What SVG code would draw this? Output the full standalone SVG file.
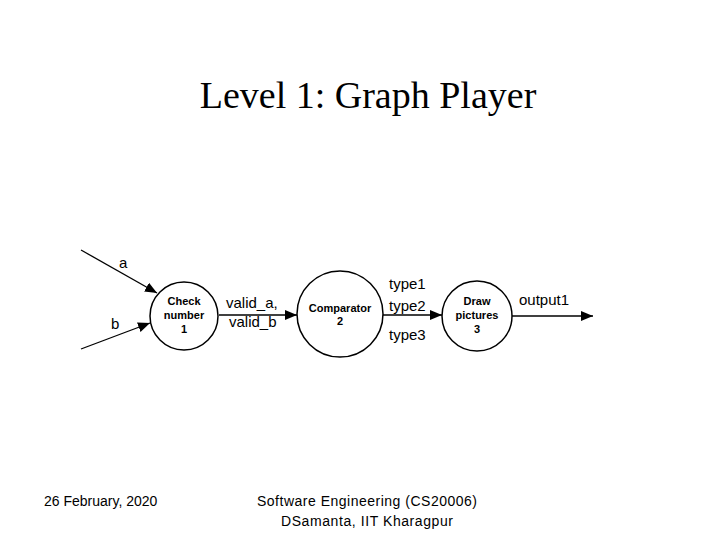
<svg xmlns="http://www.w3.org/2000/svg" width="720" height="540" viewBox="0 0 720 540">
<style>
.node{fill:#fff;stroke:#000;stroke-width:1.5}
.nt{font-family:"Liberation Sans",Arial,sans-serif;font-size:11px;font-weight:bold;text-anchor:middle;fill:#000}
.lbl{font-family:"Liberation Sans",Arial,sans-serif;font-size:15px;fill:#000}
.edge{stroke:#000;stroke-width:1.3;fill:none;marker-end:url(#ah)}
.foot{font-family:"Liberation Sans",Arial,sans-serif;font-size:14px;fill:#000}
</style>
<defs>
<marker id="ah" viewBox="0 0 12 10" refX="12" refY="5" markerWidth="12" markerHeight="10" markerUnits="userSpaceOnUse" orient="auto">
<path d="M0,0 L12,5 L0,10 z" fill="#000"/>
</marker>
</defs>
<rect width="720" height="540" fill="#fff"/>
<text x="368" y="108" font-family="Liberation Serif,'Times New Roman',serif" font-size="38" text-anchor="middle" fill="#000">Level 1: Graph Player</text>
<g id="connectors">
<line class="edge" x1="81" y1="250" x2="157" y2="293"/>
<line class="edge" x1="81" y1="349" x2="150" y2="323"/>
<line class="edge" x1="219" y1="315" x2="297" y2="315"/>
<line class="edge" x1="383" y1="315" x2="442" y2="315"/>
<line class="edge" x1="512" y1="316" x2="593" y2="316"/>
<text class="lbl" x="119" y="268">a</text>
<text class="lbl" x="111" y="329">b</text>
<text class="lbl" x="226" y="308">valid_a,</text>
<text class="lbl" x="229" y="327">valid_b</text>
<text class="lbl" x="389" y="289">type1</text>
<text class="lbl" x="389" y="311">type2</text>
<text class="lbl" x="389" y="340">type3</text>
<text class="lbl" x="519" y="305">output1</text>
</g>
<g id="node1">
<circle class="node" cx="184" cy="316" r="34"/>
<text class="nt" x="184" y="305">Check</text>
<text class="nt" x="184" y="319">number</text>
<text class="nt" x="184" y="333">1</text>
</g>
<g id="node2">
<circle class="node" cx="340" cy="314" r="43"/>
<text class="nt" x="340" y="312">Comparator</text>
<text class="nt" x="340" y="325">2</text>
</g>
<g id="node3">
<circle class="node" cx="477" cy="316" r="35"/>
<text class="nt" x="477" y="305">Draw</text>
<text class="nt" x="477" y="319">pictures</text>
<text class="nt" x="477" y="333">3</text>
</g>
<text class="foot" x="44" y="506">26 February, 2020</text>
<text class="foot" x="257" y="506" textLength="220">Software Engineering (CS20006)</text>
<text class="foot" x="281" y="526" textLength="172">DSamanta, IIT Kharagpur</text>
</svg>
